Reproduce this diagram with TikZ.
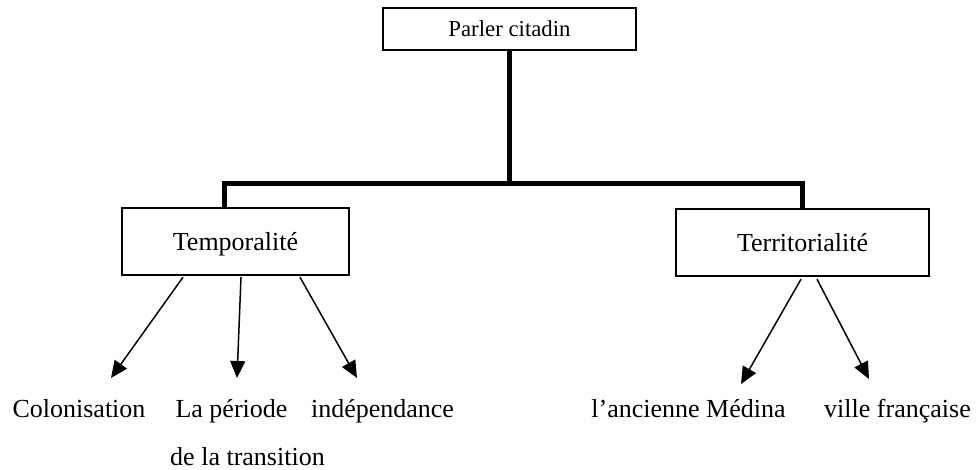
\documentclass[tikz,border=0pt]{standalone}
\usepackage{fontspec}
\setmainfont{Liberation Serif}
\usetikzlibrary{arrows.meta}
\begin{document}
\begin{tikzpicture}[x=1pt,y=-1pt,
  box/.style={draw,line width=1.4pt,inner sep=0pt,text height=17.2pt,text depth=0pt,
    font=\fontsize{26}{30}\selectfont},
  label/.style={inner sep=0pt,anchor=base,font=\fontsize{26}{30}\selectfont},
  trunk/.style={line width=5pt,line join=miter},
  arr/.style={line width=1.5pt,-{Triangle[length=17pt,width=15pt]}}]
\useasboundingbox (0,0) rectangle (977,470);

% category boxes
\node[box,minimum width=253pt,minimum height=42pt,text height=15pt,
  font=\fontsize{22.8}{26}\selectfont] (top) at (509.5,29) {Parler citadin};
\node[box,minimum width=227pt,minimum height=67pt] (temp) at (235.5,241.5) {Temporalité};
\node[box,minimum width=253pt,minimum height=67pt] (terr) at (802.5,242.5) {Territorialité};

% leaf labels
\node[label] (colon) at (79,417) {Colonisation};
\node[label] (periode) at (231.5,417) {La période};
\node[label] (trans) at (247.5,465) {de la transition};
\node[label] (indep) at (382.5,417) {indépendance};
\node[label] (medina) at (688.5,417) {l’ancienne Médina};
\node[label] (ville) at (897.5,417) {ville française};

% tree trunk
\coordinate (fork) at (top.south |- 0,184);
\draw[trunk] (top.south) -- (fork);
\draw[trunk] ([xshift=-11.5pt]temp.north) |- (fork) -| (terr.north);

% arrow tips (yshift is upward on the canvas)
\coordinate (tc) at ([xshift=32pt,yshift=39pt]colon.base);
\coordinate (tp) at ([xshift=5.5pt,yshift=39pt]periode.base);
\coordinate (ti) at ([xshift=-25.5pt,yshift=39pt]indep.base);
\coordinate (tm) at ([xshift=52.5pt,yshift=33pt]medina.base);
\coordinate (tv) at ([xshift=-28.5pt,yshift=38pt]ville.base);

\draw[arr] ([xshift=-52.5pt,yshift=-1.5pt]temp.south) -- (tc);
\draw[arr] ([xshift=5.5pt,yshift=-1.5pt]temp.south) -- (tp);
\draw[arr] ([xshift=64.5pt,yshift=-1.5pt]temp.south) -- (ti);
\draw[arr] ([xshift=-1.5pt,yshift=-2.5pt]terr.south) -- (tm);
\draw[arr] ([xshift=14.5pt,yshift=-2.5pt]terr.south) -- (tv);
\end{tikzpicture}
\end{document}
